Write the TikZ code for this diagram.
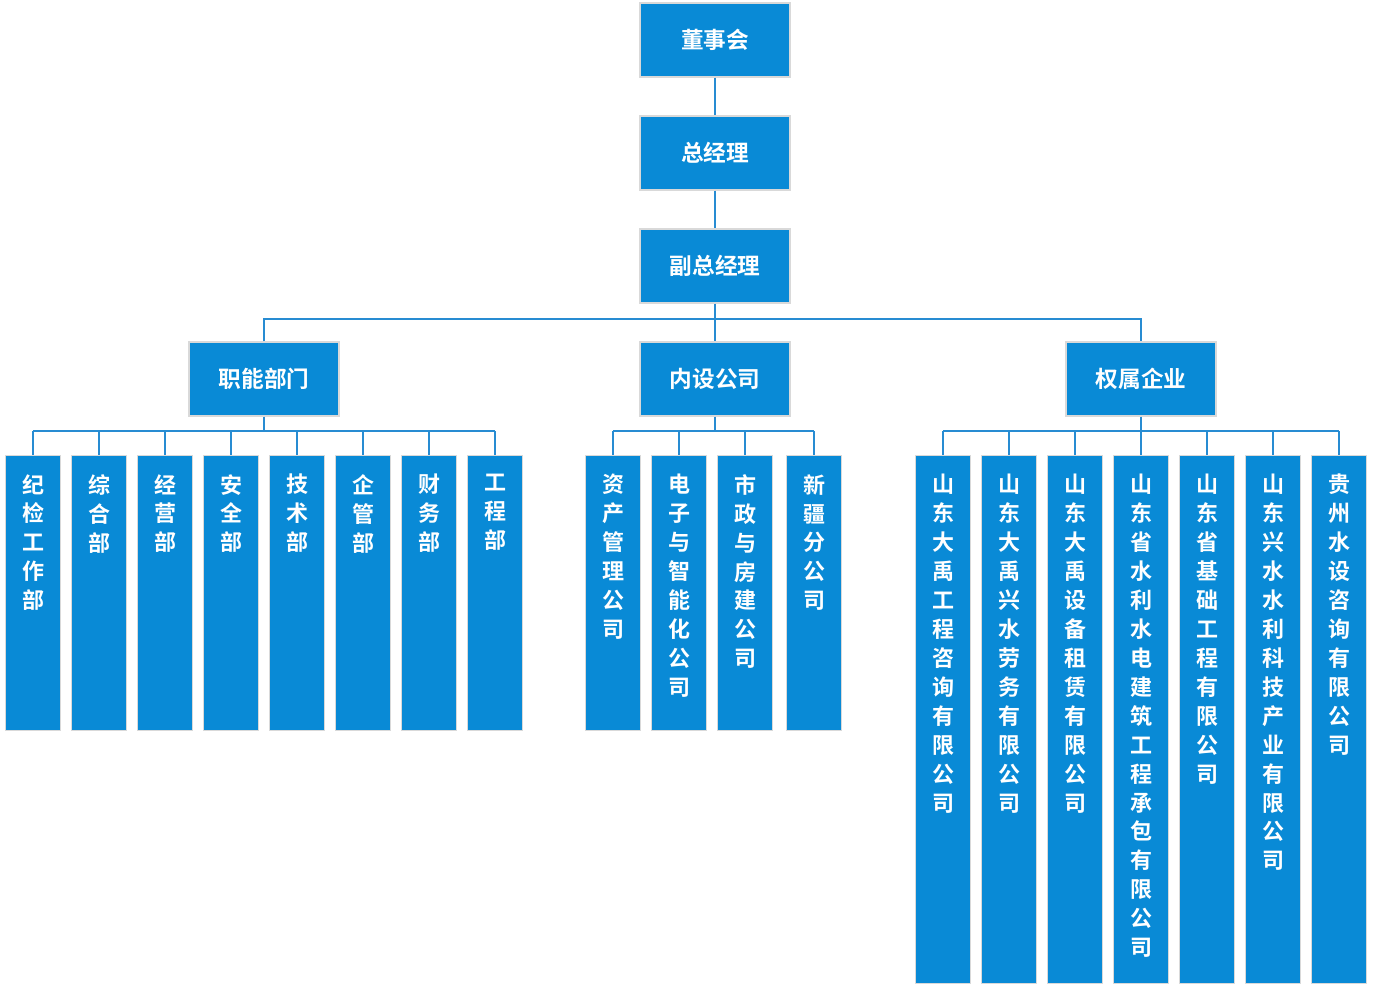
\documentclass[tikz,border=0pt]{standalone}
\usepackage{fontspec}
\setmainfont{Noto Sans CJK SC}[BoldFont={* Bold}]
\usetikzlibrary{shapes.misc}
\definecolor{boxblue}{RGB}{9,138,214}
\definecolor{lineblue}{RGB}{40,140,210}
\tikzset{
  head/.style={draw=white!85!black,line width=0.8pt,fill=boxblue,minimum width=112.5pt,minimum height=55.5pt,
    text=white,font=\fontsize{17}{20}\selectfont\bfseries,inner sep=0pt},
  bar/.style={chamfered rectangle,chamfered rectangle corners={north west,north east,south west,south east},
    chamfered rectangle xsep=2.5pt,chamfered rectangle ysep=2.5pt,draw=white!85!black,line width=0.6pt,fill=boxblue,inner sep=0pt},
  vtext/.style={anchor=north,text=white,align=center,inner sep=0pt,font=\fontsize{16.5}{21.7}\selectfont\bfseries},
  link/.style={draw=lineblue,line width=2pt}
}
\begin{document}
\begin{tikzpicture}[x=0.75pt,y=0.75pt,yscale=-1,xscale=1]
\useasboundingbox (0,0) rectangle (1374,991);

% top chain
\node[head] (dsh) at (715,40) {董事会};
\node[head] (zjl) at (715,153) {总经理};
\node[head] (fzjl) at (715,266) {副总经理};
\node[head] (znbm) at (264,379) {职能部门};
\node[head] (nsgs) at (715,379) {内设公司};
\node[head] (qsqy) at (1141,379) {权属企业};
\coordinate (mid) at (715,319);
\draw[link] (dsh) -- (zjl);
\draw[link] (zjl) -- (fzjl);
\draw[link] (fzjl) -- (nsgs);
\draw[link] (znbm.north) |- (mid) -| (qsqy.north);

% bottom bars
\def\busy{431}
\foreach \x/\t [count=\i] in {33/纪\\检\\工\\作\\部, 99/综\\合\\部, 165/经\\营\\部, 231/安\\全\\部,
  297/技\\术\\部, 363/企\\管\\部, 429/财\\务\\部, 495/工\\程\\部}{
  \draw[bar] (\x-27.5,455) rectangle (\x+27.5,730);
  \node[vtext] (a\i) at (\x,474) {\t};
  \coordinate (ta\i) at (\x,455);
  \draw[link] (\x,\busy) -- (ta\i);
}
\foreach \x/\t [count=\i] in {613/资\\产\\管\\理\\公\\司, 679/电\\子\\与\\智\\能\\化\\公\\司,
  745/市\\政\\与\\房\\建\\公\\司, 814/新\\疆\\分\\公\\司}{
  \draw[bar] (\x-27.5,455) rectangle (\x+27.5,730);
  \node[vtext] (b\i) at (\x,474) {\t};
  \coordinate (tb\i) at (\x,455);
  \draw[link] (\x,\busy) -- (tb\i);
}
\foreach \x/\t [count=\i] in {943/山\\东\\大\\禹\\工\\程\\咨\\询\\有\\限\\公\\司,
  1009/山\\东\\大\\禹\\兴\\水\\劳\\务\\有\\限\\公\\司, 1075/山\\东\\大\\禹\\设\\备\\租\\赁\\有\\限\\公\\司,
  1141/山\\东\\省\\水\\利\\水\\电\\建\\筑\\工\\程\\承\\包\\有\\限\\公\\司, 1207/山\\东\\省\\基\\础\\工\\程\\有\\限\\公\\司,
  1273/山\\东\\兴\\水\\水\\利\\科\\技\\产\\业\\有\\限\\公\\司, 1339/贵\\州\\水\\设\\咨\\询\\有\\限\\公\\司}{
  \draw[bar] (\x-27.5,455) rectangle (\x+27.5,983);
  \node[vtext] (c\i) at (\x,474) {\t};
  \coordinate (tc\i) at (\x,455);
  \draw[link] (\x,\busy) -- (tc\i);
}
\draw[link] (33,\busy) -- (495,\busy);
\draw[link] (613,\busy) -- (814,\busy);
\draw[link] (943,\busy) -- (1339,\busy);
\draw[link] (znbm) -- (264,\busy);
\draw[link] (nsgs) -- (715,\busy);
\draw[link] (qsqy) -- (1141,\busy);
\end{tikzpicture}
\end{document}
